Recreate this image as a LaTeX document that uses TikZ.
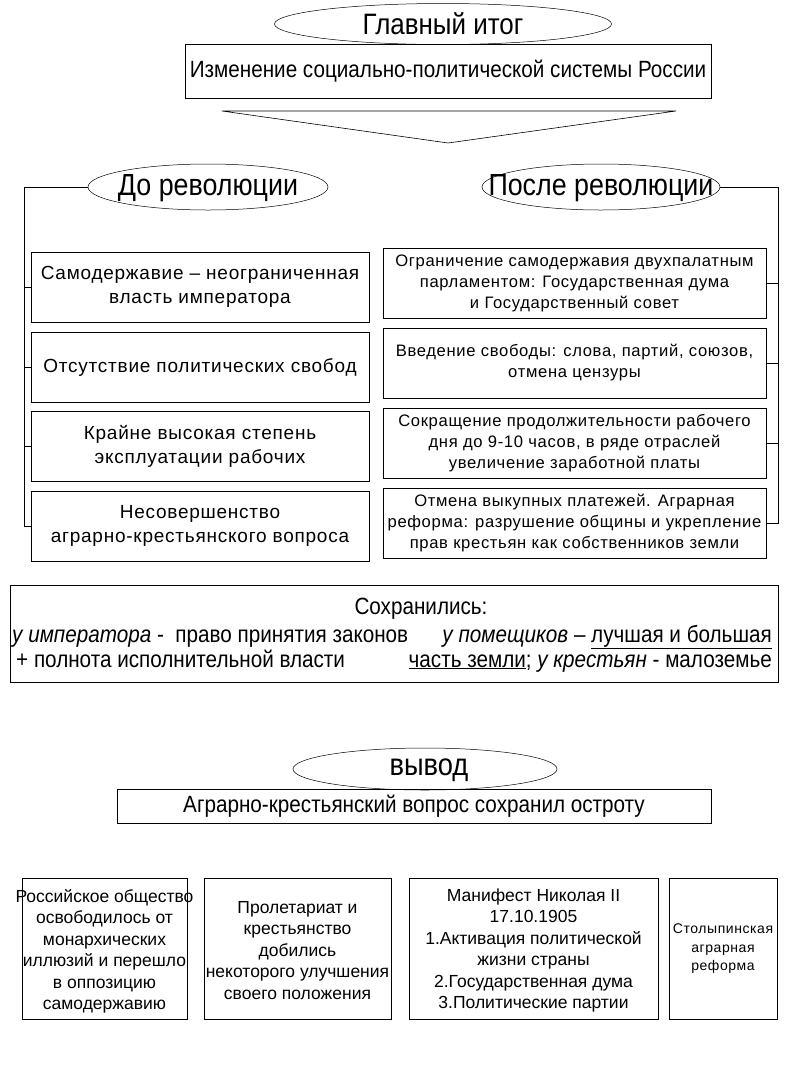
\documentclass[tikz,border=0pt]{standalone}
\usepackage{fontspec}
\setmainfont{Liberation Sans}
\newfontfamily\narrow[FakeStretch=0.88]{Liberation Sans}
\newfontfamily\spaced[LetterSpace=4]{Liberation Sans}
\usetikzlibrary{shapes.geometric}
\begin{document}
\begin{tikzpicture}[x=1pt,y=-1pt,
  box/.style={draw,line width=0.8pt,inner sep=0pt,align=center},
  oval/.style={draw,ellipse,line width=0.5pt,inner sep=0pt},
  lnk/.style={line width=0.8pt},
  txt/.style={inner sep=0pt,align=center}]
\useasboundingbox[fill=white] (0,0) rectangle (800,1066);

% title
\node[oval,minimum width=337pt,minimum height=41pt] (t) at (443,24) {};
\node[txt,font=\narrow\fontsize{29.5}{31}\selectfont] (tt) at (t.center) {Главный итог};
\node[box,minimum width=526pt,minimum height=54pt] (res) at (448,71)
  {\narrow\fontsize{23.5}{26}\selectfont Изменение социально-политической системы России};
\draw[line width=0.6pt] (222,111) -- (676,111) -- (448,143) -- cycle;

% before / after ellipses
\node[oval,minimum width=240pt,minimum height=46pt] (before) at (208,187) {};
\node[txt,font=\narrow\fontsize{30.5}{32}\selectfont] (beforet) at (208,188) {До революции};
\node[oval,minimum width=238pt,minimum height=46pt] (after) at (601,187) {};
\node[txt,font=\narrow\fontsize{30.5}{32}\selectfont] (aftert) at (601,188) {После революции};

% left boxes
\begin{scope}[every node/.style={box,minimum width=338pt,minimum height=70pt,font=\spaced\fontsize{19}{24}\selectfont}]
\node (l1) at (200,287) {Самодержавие – неограниченная\\власть императора};
\node (l2) at (200,367) {Отсутствие политических свобод};
\node (l3) at (200,446) {Крайне высокая степень\\эксплуатации рабочих};
\node (l4) at (200,526) {Несовершенство\\аграрно-крестьянского вопроса};
\end{scope}

% right boxes
\begin{scope}[every node/.style={box,minimum width=383pt,minimum height=70pt,font=\spaced\fontsize{16.6}{21}\selectfont}]
\node (r1) at (574.5,283) {Ограничение самодержавия двухпалатным\\парламентом: Государственная дума\\и Государственный совет};
\node (r2) at (574.5,363) {Введение свободы: слова, партий, союзов,\\отмена цензуры};
\node (r3) at (574.5,443) {Сокращение продолжительности рабочего\\дня до 9-10 часов, в ряде отраслей\\увеличение заработной платы};
\node (r4) at (574.5,523) {Отмена выкупных платежей. Аграрная\\реформа: разрушение общины и укрепление\\прав крестьян как собственников земли};
\end{scope}

% brackets
\coordinate (lt) at (24,187);
\coordinate (rt) at (778,187);
\draw[lnk] (before.west) -- (lt) -- (lt |- l4.west) -- (l4.west);
\draw[lnk] (l1.west) -- (l1.west -| lt);
\draw[lnk] (l2.west) -- (l2.west -| lt);
\draw[lnk] (l3.west) -- (l3.west -| lt);
\draw[lnk] (after.east) -- (rt) -- (rt |- r4.east) -- (r4.east);
\draw[lnk] (r1.east) -- (r1.east -| rt);
\draw[lnk] (r2.east) -- (r2.east -| rt);
\draw[lnk] (r3.east) -- (r3.east -| rt);

% preserved box
\node[box,minimum width=768pt,minimum height=97pt] (keep) at (394,633.5) {};
\begin{scope}[every node/.style={txt,font=\narrow\fontsize{23.5}{26}\selectfont}]
\node (k0) at (421,609) {Сохранились:};
\node[anchor=base west] (k1) at (12,642) {\itshape у императора\upshape\ -\ \ право принятия законов};
\node[anchor=base east] (k2) at (772,642) {\itshape у помещиков\upshape\ – \underline{лучшая и большая}};
\node[anchor=base west] (k3) at (16,667) {+ полнота исполнительной власти};
\node[anchor=base east] (k4) at (772,667) {\underline{часть земли}; \itshape у крестьян\upshape\ - малоземье};
\end{scope}

% conclusion
\node[oval,minimum width=264pt,minimum height=42pt] (concl) at (425,769) {};
\node[txt,font=\narrow\fontsize{31}{33}\selectfont] (conclt) at (429,770) {вывод};
\node[box,minimum width=594pt,minimum height=34pt] (agr) at (414,806)
  {\narrow\fontsize{23.5}{26}\selectfont Аграрно-крестьянский вопрос сохранил остроту};

% bottom boxes
\node[box,minimum width=165pt,minimum height=141pt] (b1) at (104.5,948.5) {};
\node[box,minimum width=187pt,minimum height=141pt] (b2) at (297.5,948.5) {};
\node[box,minimum width=249pt,minimum height=141pt] (b3) at (533.5,948.5) {};
\node[box,minimum width=108pt,minimum height=141pt] (b4) at (723,948.5) {};
\begin{scope}[every node/.style={txt,font=\fontsize{17.5}{21.5}\selectfont}]
\node (bt1) at ([yshift=-3pt]b1.center) {Российское общество\\освободилось от\\монархических\\иллюзий и перешло\\в оппозицию\\самодержавию};
\node (bt2) at ([yshift=-2pt]b2.center) {Пролетариат и\\крестьянство\\добились\\некоторого улучшения\\своего положения};
\node (bt3) at ([yshift=-2pt]b3.center) {Манифест Николая II\\17.10.1905\\1.Активация политической\\жизни страны\\2.Государственная дума\\3.Политические партии};
\node[font=\spaced\fontsize{14}{18.5}\selectfont] (bt4) at (723,949) {Столыпинская\\аграрная\\реформа};
\end{scope}
\end{tikzpicture}
\end{document}
